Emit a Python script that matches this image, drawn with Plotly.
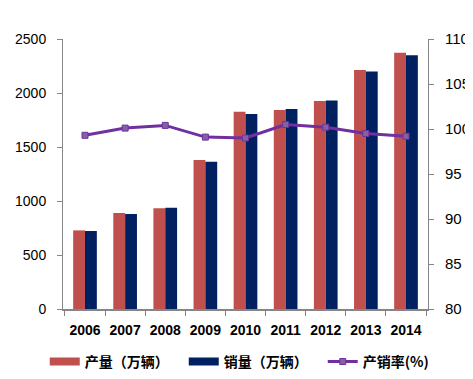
import plotly.graph_objects as go

years = ["2006", "2007", "2008", "2009", "2010", "2011", "2012", "2013", "2014"]
production = [728, 888, 934, 1379, 1826, 1842, 1927, 2212, 2372]
sales = [722, 879, 938, 1364, 1806, 1851, 1931, 2198, 2349]
ratio = [99.3, 100.1, 100.4, 99.1, 99.0, 100.5, 100.2, 99.5, 99.2]

RED = "#C0504D"
NAVY = "#002060"
PURPLE = "#7030A0"

font_family = "Liberation Sans, Arial, Noto Sans CJK SC"

fig = go.Figure()
fig.add_trace(go.Bar(x=years, y=production, name="产量（万辆）", showlegend=False,
                     marker=dict(color=RED, line=dict(width=0))))
fig.add_trace(go.Bar(x=years, y=sales, name="销量（万辆）", showlegend=False,
                     marker=dict(color=NAVY, line=dict(width=0))))
fig.add_trace(go.Scatter(x=years, y=ratio, name="产销率(%)", yaxis="y2",
                         mode="lines+markers", showlegend=False,
                         line=dict(color=PURPLE, width=3),
                         marker=dict(symbol="square", size=6, color="#8064A2",
                                     line=dict(color=PURPLE, width=1))))
# legend entries (bar swatches drawn as thick line keys)
fig.add_trace(go.Scatter(x=[None], y=[None], name="产量（万辆）", mode="lines",
                         line=dict(color=RED, width=8)))
fig.add_trace(go.Scatter(x=[None], y=[None], name="销量（万辆）", mode="lines",
                         line=dict(color=NAVY, width=8)))
fig.add_trace(go.Scatter(x=[None], y=[None], name="产销率(%)", mode="lines+markers",
                         line=dict(color=PURPLE, width=3),
                         marker=dict(symbol="square", size=6, color="#8064A2",
                                     line=dict(color=PURPLE, width=1))))

# page has an 8px body margin, so the figure is shifted; size/margins compensate
fig.update_layout(
    width=465, height=371,
    margin=dict(l=55, r=45, t=31, b=70, autoexpand=False),
    paper_bgcolor="white", plot_bgcolor="white",
    barmode="group", bargap=0.41, bargroupgap=0,
    font=dict(family=font_family, size=14, color="#000000"),
    showlegend=True,
    legend=dict(orientation="h", x=-0.05, xanchor="left", y=-0.196, yanchor="middle",
                font=dict(size=14, family="Noto Sans CJK SC", weight="bold"),
                traceorder="normal", entrywidth=94, entrywidthmode="pixels",
                itemwidth=30, tracegroupgap=0),
    xaxis=dict(showline=True, linecolor="#868686", linewidth=2,
               ticks="outside", tickson="boundaries", ticklen=5, tickcolor="#868686",
               tickangle=0, automargin=False, ticklabelstandoff=7,
               tickfont=dict(size=14, family=font_family, weight="bold"),
               showgrid=False),
    yaxis=dict(range=[0, 2500], dtick=500, showline=True, linecolor="#868686", linewidth=1,
               ticks="outside", ticklen=5, tickcolor="#868686", automargin=False,
               showgrid=False, zeroline=False, ticklabelstandoff=8,
               tickfont=dict(size=14, family=font_family)),
    yaxis2=dict(range=[80, 110], dtick=5, overlaying="y", side="right",
                showline=True, linecolor="#868686", linewidth=1,
                ticks="outside", ticklen=5, tickcolor="#868686", automargin=False,
                showgrid=False, zeroline=False, ticklabelstandoff=8,
                tickfont=dict(size=15, family=font_family)),
)

fig.write_html("out.html")
